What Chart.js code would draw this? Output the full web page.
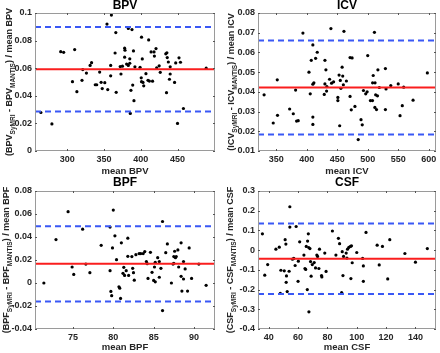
<!DOCTYPE html>
<html>
<head>
<meta charset="utf-8">
<script src="https://cdn.jsdelivr.net/npm/chart.js@4.4.1/dist/chart.umd.min.js"></script>
<style>
  body { margin: 0; background: #fff; }
  #wrap { position: relative; width: 440px; height: 353px; overflow: hidden; }
  canvas { position: absolute; }
</style>
</head>
<body>
<div id="wrap">
  <canvas id="bpv" width="220" height="177" style="left:0;top:0"></canvas>
  <canvas id="icv" width="220" height="177" style="left:220px;top:0"></canvas>
  <canvas id="bpf" width="220" height="176" style="left:0;top:177px"></canvas>
  <canvas id="csf" width="220" height="176" style="left:220px;top:177px"></canvas>
</div>
<script>
// mean of the two methods (x) and relative difference (y)
var bpvX = [264, 279, 291, 295, 310, 307, 313, 320, 321, 326, 331, 333, 338, 340, 344, 346, 347.5, 351, 355, 354,
  360, 365, 366, 359, 359, 366.5, 372, 373, 378, 378.5, 378, 380.7, 375, 385, 385, 383, 390, 392, 383, 388,
  386.6, 389, 390.7, 385.7, 399, 401, 402, 400.6, 401, 403, 404, 407, 409.8, 411.7, 410.7, 414, 416, 418, 418.5, 420.7,
  421.6, 425, 426.5, 434, 435.5, 436, 435, 437.5, 440, 440, 439, 446, 447.5, 452, 454, 450, 458, 489];
var bpvY = [0.0279, 0.0196, 0.072, 0.0715, 0.0735, 0.0502, 0.043, 0.0512, 0.059, 0.0565, 0.062, 0.064, 0.048, 0.048, 0.0572, 0.0498, 0.0452, 0.0495, 0.0445, 0.092,
  0.0985, 0.071, 0.0858, 0.062, 0.0545, 0.0425, 0.0612, 0.0558, 0.0745, 0.073, 0.068, 0.063, 0.0615, 0.0668, 0.0636, 0.062, 0.0725, 0.061, 0.0888, 0.088,
  0.044, 0.0478, 0.0365, 0.0272, 0.0607, 0.0825, 0.0667, 0.053, 0.0502, 0.0497, 0.0472, 0.056, 0.0512, 0.0507, 0.0805, 0.0718, 0.0506, 0.0718, 0.0688, 0.0742,
  0.0603, 0.0617, 0.057, 0.0704, 0.0712, 0.0677, 0.0423, 0.0645, 0.061, 0.0558, 0.052, 0.0497, 0.0638, 0.0675, 0.0643, 0.02, 0.0308, 0.06];

var icvX = [330, 345, 352, 351.6, 381.7, 371.9, 377.9, 383.3, 386, 393.7, 403.6, 405.7, 407.4, 410, 410, 411.7, 410, 410, 414.5, 417.2,
  429.8, 429.8, 428.7, 431.4, 433, 432.5, 437.4, 440.7, 444, 439.6, 451, 451, 453, 455, 454, 456, 458, 459, 460, 461,
  465, 471, 474.4, 471, 473, 479, 489, 491, 484.4, 493, 496.7, 499, 500, 504.4, 507.8, 508, 512, 509, 511, 511.7,
  514.4, 513, 516.7, 516, 519, 529, 529, 530, 537.8, 550, 553, 556.7, 559, 574.4, 597.8];
var icvY = [0.0385, 0.0242, 0.0281, 0.0461, 0.0409, 0.0313, 0.0289, 0.0252, 0.0254, 0.0698, 0.05, 0.039, 0.056, 0.0638, 0.0439, 0.0446, 0.0272, 0.0235, 0.057, 0.0601,
  0.056, 0.044, 0.0387, 0.0512, 0.0427, 0.0404, 0.0464, 0.0444, 0.0451, 0.0721, 0.0372, 0.0356, 0.0485, 0.0458, 0.0228, 0.0418, 0.0525, 0.048, 0.0436, 0.0707,
  0.0455, 0.0574, 0.0572, 0.0377, 0.0309, 0.0326, 0.0259, 0.0233, 0.0158, 0.0407, 0.039, 0.04, 0.0584, 0.0356, 0.0356, 0.0446, 0.0446, 0.0483, 0.0702, 0.0321,
  0.031, 0.0385, 0.0512, 0.038, 0.0422, 0.0518, 0.031, 0.0415, 0.0432, 0.044, 0.0279, 0.033, 0.0424, 0.0358, 0.0496];

var bpfX = [71.4, 72.9, 74.4, 74.9, 75.1, 76.2, 76.6, 77.1, 78.5, 79.6, 79.6, 79.7, 79.8, 79.9, 80, 80.2, 80.4, 81, 80.7, 80.8,
  80.9, 81.3, 81.2, 81.4, 81.6, 81.8, 81.8, 81.9, 82.3, 82.4, 82.5, 82.6, 82.8, 83.2, 83.4, 83.7, 83.9, 84.1, 84.2, 84.3,
  84.6, 84.8, 85, 85.2, 85.1, 85.2, 85.5, 85.7, 85.7, 85.9, 86.1, 86.1, 86.5, 86.7, 87.2, 87.4, 87.5, 87.5, 87.6, 87.7,
  87.8, 88, 88.1, 88.4, 88.4, 88.5, 88.7, 88.7, 88.9, 89.2, 89.4, 89.7, 90.6, 91.5];
var bpfY = [0, 0.0378, 0.062, 0.0139, 0.0075, 0.0468, 0.0165, 0.009, 0.0328, 0.0486, 0.0107, -0.0073, -0.011, 0.0305, 0.0634, 0.041, 0.0203, 0.0349, -0.0033, -0.0045,
  -0.0134, 0.0136, 0.0084, 0.0066, 0.0107, 0.039, 0.0232, 0.0066, 0.023, 0.0128, 0.009, 0.0025, 0.0246, 0.0256, 0.0256, 0.0256, 0.0273, 0.0186, 0.0168, 0.004,
  0.0267, 0.0093, 0.0022, 0.001, 0.0139, 0.018, 0.022, 0.0186, 0.005, 0.0128, 0.0535, -0.024, 0.0264, 0.034, 0, 0.0165, 0.017, 0.023, 0.0276, 0.022,
  0.023, 0.0288, 0.0139, 0.0349, 0.0058, -0.007, 0.0186, 0.0035, 0.0122, -0.007, 0.0305, 0.004, 0.0165, -0.002];

var csfX = [35.7, 37.3, 39.3, 44.9, 47.2, 47.9, 48.3, 50.6, 51.2, 51.7, 52.1, 51.9, 52.6, 54.4, 54.4, 53.9, 56.2, 57.1, 58.7, 58,
  60.2, 60, 61.1, 64, 64.7, 65.2, 65.6, 66.3, 66.5, 67, 67.3, 67.4, 68.1, 68.5, 68.9, 69.7, 71, 71.9, 72.8, 73.3,
  74.2, 74.6, 76, 76.2, 78.2, 79.1, 83.4, 85.8, 87.5, 88.3, 90.1, 90.6, 89.7, 91, 92.8, 93.3, 93.7, 94.6, 95.7, 96.4,
  96, 96.9, 100, 104, 104.5, 104.5, 106.3, 113.9, 115.3, 117.5, 121.1, 122.5, 132.8, 140, 148.1];
var csfY = [0.083, -0.127, -0.073, 0.005, 0.015, -0.219, -0.102, -0.105, 0.053, 0.031, -0.131, -0.163, -0.21, 0.22, 0.117, -0.107, -0.046, -0.042, 0.12, -0.078,
  -0.056, -0.158, 0.042, -0.025, -0.093, -0.098, 0.019, -0.2, 0.046, 0.083, 0.013, -0.313, 0.008, -0.058, -0.132, -0.073, -0.063, -0.09, -0.025, -0.032,
  -0.093, 0.005, -0.129, -0.136, -0.015, -0.108, 0.097, -0.025, 0.06, 0.033, -0.008, -0.129, -0.215, -0.032, -0.015, -0.04, 0.005, 0.014, 0.019, 0.022,
  -0.144, -0.064, -0.012, -0.042, -0.08, -0.158, 0.09, 0.025, -0.075, 0.019, -0.146, 0.053, -0.017, -0.061, 0.008];

// mean difference and limits of agreement
var bpvMean = 0.0593, bpvLimits = [0.0287, 0.0899];
var icvMean = 0.0422, icvLimits = [0.0184, 0.066];
var bpfMean = 0.0167, bpfLimits = [-0.0161, 0.0494];
var csfMean = -0.0435, csfLimits = [-0.222, 0.135];

// axis ticks
var bpvXTicks = [300, 350, 400, 450], bpvYTicks = [0, 0.02, 0.04, 0.06, 0.08, 0.1];
var icvXTicks = [350, 400, 450, 500, 550, 600], icvYTicks = [0.01, 0.02, 0.03, 0.04, 0.05, 0.06, 0.07, 0.08];
var bpfXTicks = [75, 80, 85, 90], bpfYTicks = [-0.04, -0.02, 0, 0.02, 0.04, 0.06, 0.08];
var csfXTicks = [40, 60, 80, 100, 120, 140], csfYTicks = [-0.4, -0.3, -0.2, -0.1, 0, 0.1, 0.2, 0.3];

Chart.defaults.font.family = '"Liberation Sans", Arial, sans-serif';

var tickFont = { size: 9, weight: 'bold' };
var axisGrey = '#262626';

// MATLAB style box, inward ticks and the y label with subscripts
var matlabAxes = {
  id: 'matlabAxes',
  afterDraw: function (chart, args, o) {
    var ctx = chart.ctx, a = chart.chartArea;
    var sx = chart.scales.x, sy = chart.scales.y;
    ctx.save();
    ctx.strokeStyle = '#9a9a9a';
    ctx.lineWidth = 1;
    ctx.strokeRect(a.left + 0.5, a.top + 0.5, a.right - a.left - 1, a.bottom - a.top - 1);
    ctx.strokeStyle = '#555';
    ctx.beginPath();
    sx.ticks.forEach(function (t) {
      var px = Math.round(sx.getPixelForValue(t.value)) + 0.5;
      ctx.moveTo(px, a.bottom); ctx.lineTo(px, a.bottom - 2);
      ctx.moveTo(px, a.top); ctx.lineTo(px, a.top + 2);
    });
    sy.ticks.forEach(function (t) {
      var py = Math.round(sy.getPixelForValue(t.value)) + 0.5;
      ctx.moveTo(a.left, py); ctx.lineTo(a.left + 2, py);
      ctx.moveTo(a.right, py); ctx.lineTo(a.right - 2, py);
    });
    ctx.stroke();

    var n = o.name;
    var parts = [['(' + n, 0], ['SyMRI', 1], [' - ' + n, 0], ['MANTIS', 1], [') / mean ' + n, 0]];
    var big = 'bold 9px "Liberation Sans", Arial, sans-serif';
    var small = 'bold 6.5px "Liberation Sans", Arial, sans-serif';
    var total = 0;
    parts.forEach(function (p) { ctx.font = p[1] ? small : big; total += ctx.measureText(p[0]).width; });
    ctx.translate(o.labelX, (a.top + a.bottom) / 2);
    ctx.rotate(-Math.PI / 2);
    ctx.fillStyle = axisGrey;
    ctx.textBaseline = 'middle';
    var u = -total / 2;
    parts.forEach(function (p) {
      ctx.font = p[1] ? small : big;
      ctx.fillText(p[0], u, p[1] ? 3 : 0);
      u += ctx.measureText(p[0]).width;
    });
    ctx.restore();
  }
};

function makePanel(id, name, xs, ys, mean, limits, xRange, yRange, xTicks, yTicks, area, labelX) {
  var canvas = document.getElementById(id);
  var W = canvas.width, H = canvas.height;
  var points = xs.map(function (x, i) { return { x: x, y: ys[i] }; });
  var hline = function (v) { return [{ x: xRange[0], y: v }, { x: xRange[1], y: v }]; };
  var blue = 'rgb(58, 88, 245)';
  new Chart(canvas, {
    type: 'scatter',
    data: {
      datasets: [
        { type: 'line', data: hline(mean), borderColor: 'rgb(250, 30, 30)', borderWidth: 2, pointRadius: 0, order: 0 },
        { type: 'line', data: hline(limits[0]), borderColor: blue, borderWidth: 2, borderDash: [6, 4], pointRadius: 0, order: 0 },
        { type: 'line', data: hline(limits[1]), borderColor: blue, borderWidth: 2, borderDash: [6, 4], pointRadius: 0, order: 0 },
        { data: points, backgroundColor: '#000', borderWidth: 0, pointRadius: 1.6, order: 1 }
      ]
    },
    options: {
      responsive: false,
      animation: false,
      layout: { padding: { left: 0, top: 0, bottom: 0, right: W - area.right } },
      plugins: {
        legend: { display: false },
        tooltip: { enabled: false },
        title: {
          display: true,
          text: name,
          fullSize: false,
          color: '#000',
          font: { size: 12, weight: 'bold', lineHeight: 1 },
          padding: { top: 0, bottom: area.top - 12 }
        },
        matlabAxes: { name: name, labelX: labelX }
      },
      scales: {
        x: {
          type: 'linear',
          min: xRange[0],
          max: xRange[1],
          afterBuildTicks: function (s) { s.ticks = xTicks.map(function (v) { return { value: v }; }); },
          afterFit: function (s) { s.height = H - area.bottom; },
          grid: { display: false, drawTicks: false },
          border: { display: false },
          ticks: { padding: 3, maxRotation: 0, color: axisGrey, font: tickFont, callback: function (v) { return String(v); } },
          title: { display: true, text: 'mean ' + name, color: axisGrey, font: { size: 9.5, weight: 'bold' }, padding: 0 }
        },
        y: {
          type: 'linear',
          min: yRange[0],
          max: yRange[1],
          afterBuildTicks: function (s) { s.ticks = yTicks.map(function (v) { return { value: v }; }); },
          afterFit: function (s) { s.width = area.left; },
          grid: { display: false, drawTicks: false },
          border: { display: false },
          ticks: { padding: 3, color: axisGrey, font: tickFont, callback: function (v) { return String(v); } }
        }
      }
    },
    plugins: [matlabAxes]
  });
}

makePanel('bpv', 'BPV', bpvX, bpvY, bpvMean, bpvLimits, [256, 501], [0, 0.1], bpvXTicks, bpvYTicks,
  { left: 35, right: 215, top: 13, bottom: 151 }, 10);
makePanel('icv', 'ICV', icvX, icvY, icvMean, icvLimits, [320, 612], [0.01, 0.08], icvXTicks, icvYTicks,
  { left: 38, right: 218, top: 13, bottom: 151 }, 12);
makePanel('bpf', 'BPF', bpfX, bpfY, bpfMean, bpfLimits, [70.3, 92.6], [-0.04, 0.08], bpfXTicks, bpfYTicks,
  { left: 35, right: 215, top: 14, bottom: 152 }, 7);
makePanel('csf', 'CSF', csfX, csfY, csfMean, csfLimits, [32.7, 154], [-0.4, 0.3], csfXTicks, csfYTicks,
  { left: 38, right: 218, top: 14, bottom: 152 }, 11);
</script>
</body>
</html>
